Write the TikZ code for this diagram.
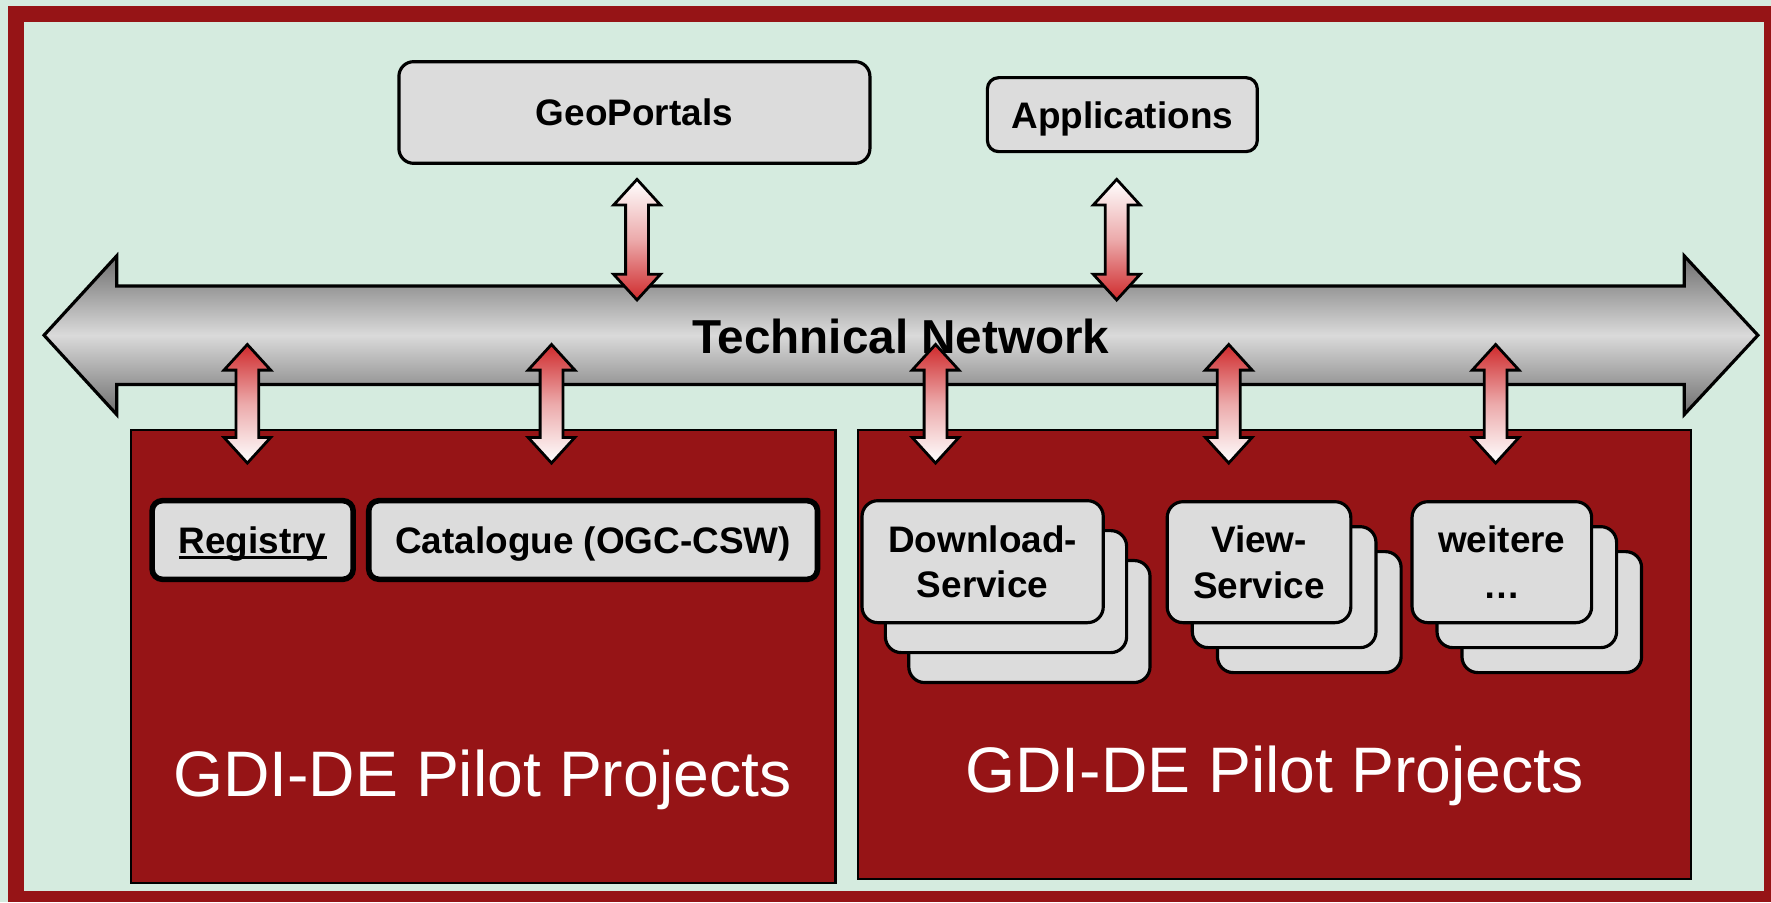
\documentclass[tikz,border=0pt]{standalone}
\usepackage{fontspec}
\setmainfont{Liberation Sans}
\usetikzlibrary{positioning}

\definecolor{fondo}{HTML}{D5EBDF}
\definecolor{rojo}{HTML}{961416}
\definecolor{gris}{HTML}{DCDCDC}
\definecolor{rojoflecha}{HTML}{CF2A2C}
\definecolor{grisoscuro}{HTML}{6E6E6E}
\definecolor{grisclaro}{HTML}{DADADA}

\tikzset{
  caja/.style={draw=black, line width=0.8pt, fill=gris, rounded corners=1.3mm,
    inner sep=0pt, align=center, text depth=0pt,
    font=\bfseries\fontsize{9.3}{11.5}\selectfont},
  cajagruesa/.style={caja, line width=1.4pt, rounded corners=0.9mm},
  proyecto/.style={draw=black, line width=0.6pt, fill=rojo, inner sep=0pt},
  rotulo/.style={text=white, anchor=base, inner sep=0pt,
    font=\fontsize{16.2}{19}\selectfont},
}

% flecha doble vertical: x, y arriba, y abajo, color arriba, color abajo
\newcommand{\flecha}[5]{%
  \shade[top color=#4, bottom color=#5, middle color=rojoflecha!40!white,
    draw=black, line width=0.7pt]
    (#1,#2) -- ++(20.7,22.7) -- ++(-10.6,0) -- ({#1+10.1},{#3-22.7}) -- ++(10.6,0)
    -- (#1,#3) -- ++(-20.7,-22.7) -- ++(10.6,0) -- ({#1-10.1},{#2+22.7})
    -- ++(-10.6,0) -- cycle;
}

% pila de tres cajas: nombre, x, y, ancho, alto, dx, dy, texto
\newcommand{\pila}[8]{%
  \node[caja, rounded corners=1.4mm, minimum width=#4, minimum height=#5]
    (#1c) at ({#2+2*#6},{#3+2*#7}) {};
  \node[caja, rounded corners=1.4mm, minimum width=#4, minimum height=#5]
    (#1b) at ({#2+#6},{#3+#7}) {};
  \node[caja, rounded corners=1.4mm, minimum width=#4, minimum height=#5]
    (#1a) at (#2,#3) {#8};
}

\newcommand{\subrayar}[1]{\setbox0\hbox{#1}\rlap{\rule[-1.3pt]{\wd0}{0.6pt}}\box0}

\begin{document}
\begin{tikzpicture}[x=0.1mm, y=-0.1mm]
  \useasboundingbox (0,0) rectangle (1568,799);

  % Fondo y marco
  \fill[fondo] (0,0) rectangle (1568,799);
  \fill[rojo] (7.1,5.3) rectangle (1568,799);
  \fill[fondo] (21.3,19.5) rectangle (1561.5,789);

  % Cajas superiores
  \node[caja, minimum width=41.7mm, minimum height=9mm] (geo) at (561.7,99.6) {GeoPortals};
  \node[caja, rounded corners=1mm, minimum width=23.9mm, minimum height=6.55mm]
    (app) at (993.7,101.5) {Applications};

  % Red tecnica
  \shade[top color=grisoscuro, bottom color=grisoscuro, middle color=grisclaro,
    draw=black, line width=0.8pt]
    (39,296.8) -- (103.3,226.6) -- (103.3,253.2) -- (1491.2,253.2) -- (1491.2,226.6)
    -- (1556.4,296.8) -- (1491.2,367) -- (1491.2,340.4) -- (103.3,340.4)
    -- (103.3,367) -- cycle;
  \node[anchor=base, inner sep=0pt, font=\bfseries\fontsize{12}{14}\selectfont]
    (red) at (797.5,312.7) {Technical Network};

  % Proyectos piloto
  \node[proyecto, minimum width=62.36mm, minimum height=40.13mm] (pil1) at (428,581.35) {};
  \node[proyecto, minimum width=73.72mm, minimum height=39.78mm] (pil2) at (1128.4,579.6) {};
  \node[rotulo] (rot1) at (427,704.8) {GDI-DE Pilot Projects};
  \node[rotulo] (rot2) at (1128.5,702) {GDI-DE Pilot Projects};

  % Registry y catalogo
  \node[cajagruesa, minimum width=17.8mm, minimum height=6.96mm]
    (reg) at (223.7,478.1) {\subrayar{Registry}};
  \node[cajagruesa, minimum width=39.73mm, minimum height=6.96mm]
    (cat) at (525.15,478.1) {Catalogue (OGC-CSW)};

  % Servicios
  \pila{dl}{870}{497.3}{21.36mm}{10.8mm}{20.7}{26.5}{Download-\\Service}
  \pila{vw}{1114.7}{497.75}{16.26mm}{10.71mm}{22.25}{22.1}{View-\\Service}
  \pila{wt}{1329.7}{497.75}{15.9mm}{10.71mm}{22.1}{22.1}{weitere\\…}

  % Flechas de conexion
  \flecha{564}{158.8}{265.6}{white}{rojoflecha}
  \flecha{988.7}{158.8}{265.6}{white}{rojoflecha}
  \foreach \x in {219,488.3,828.3,1087.9,1324.2} {
    \flecha{\x}{305}{410}{rojoflecha}{white}
  }
\end{tikzpicture}
\end{document}
